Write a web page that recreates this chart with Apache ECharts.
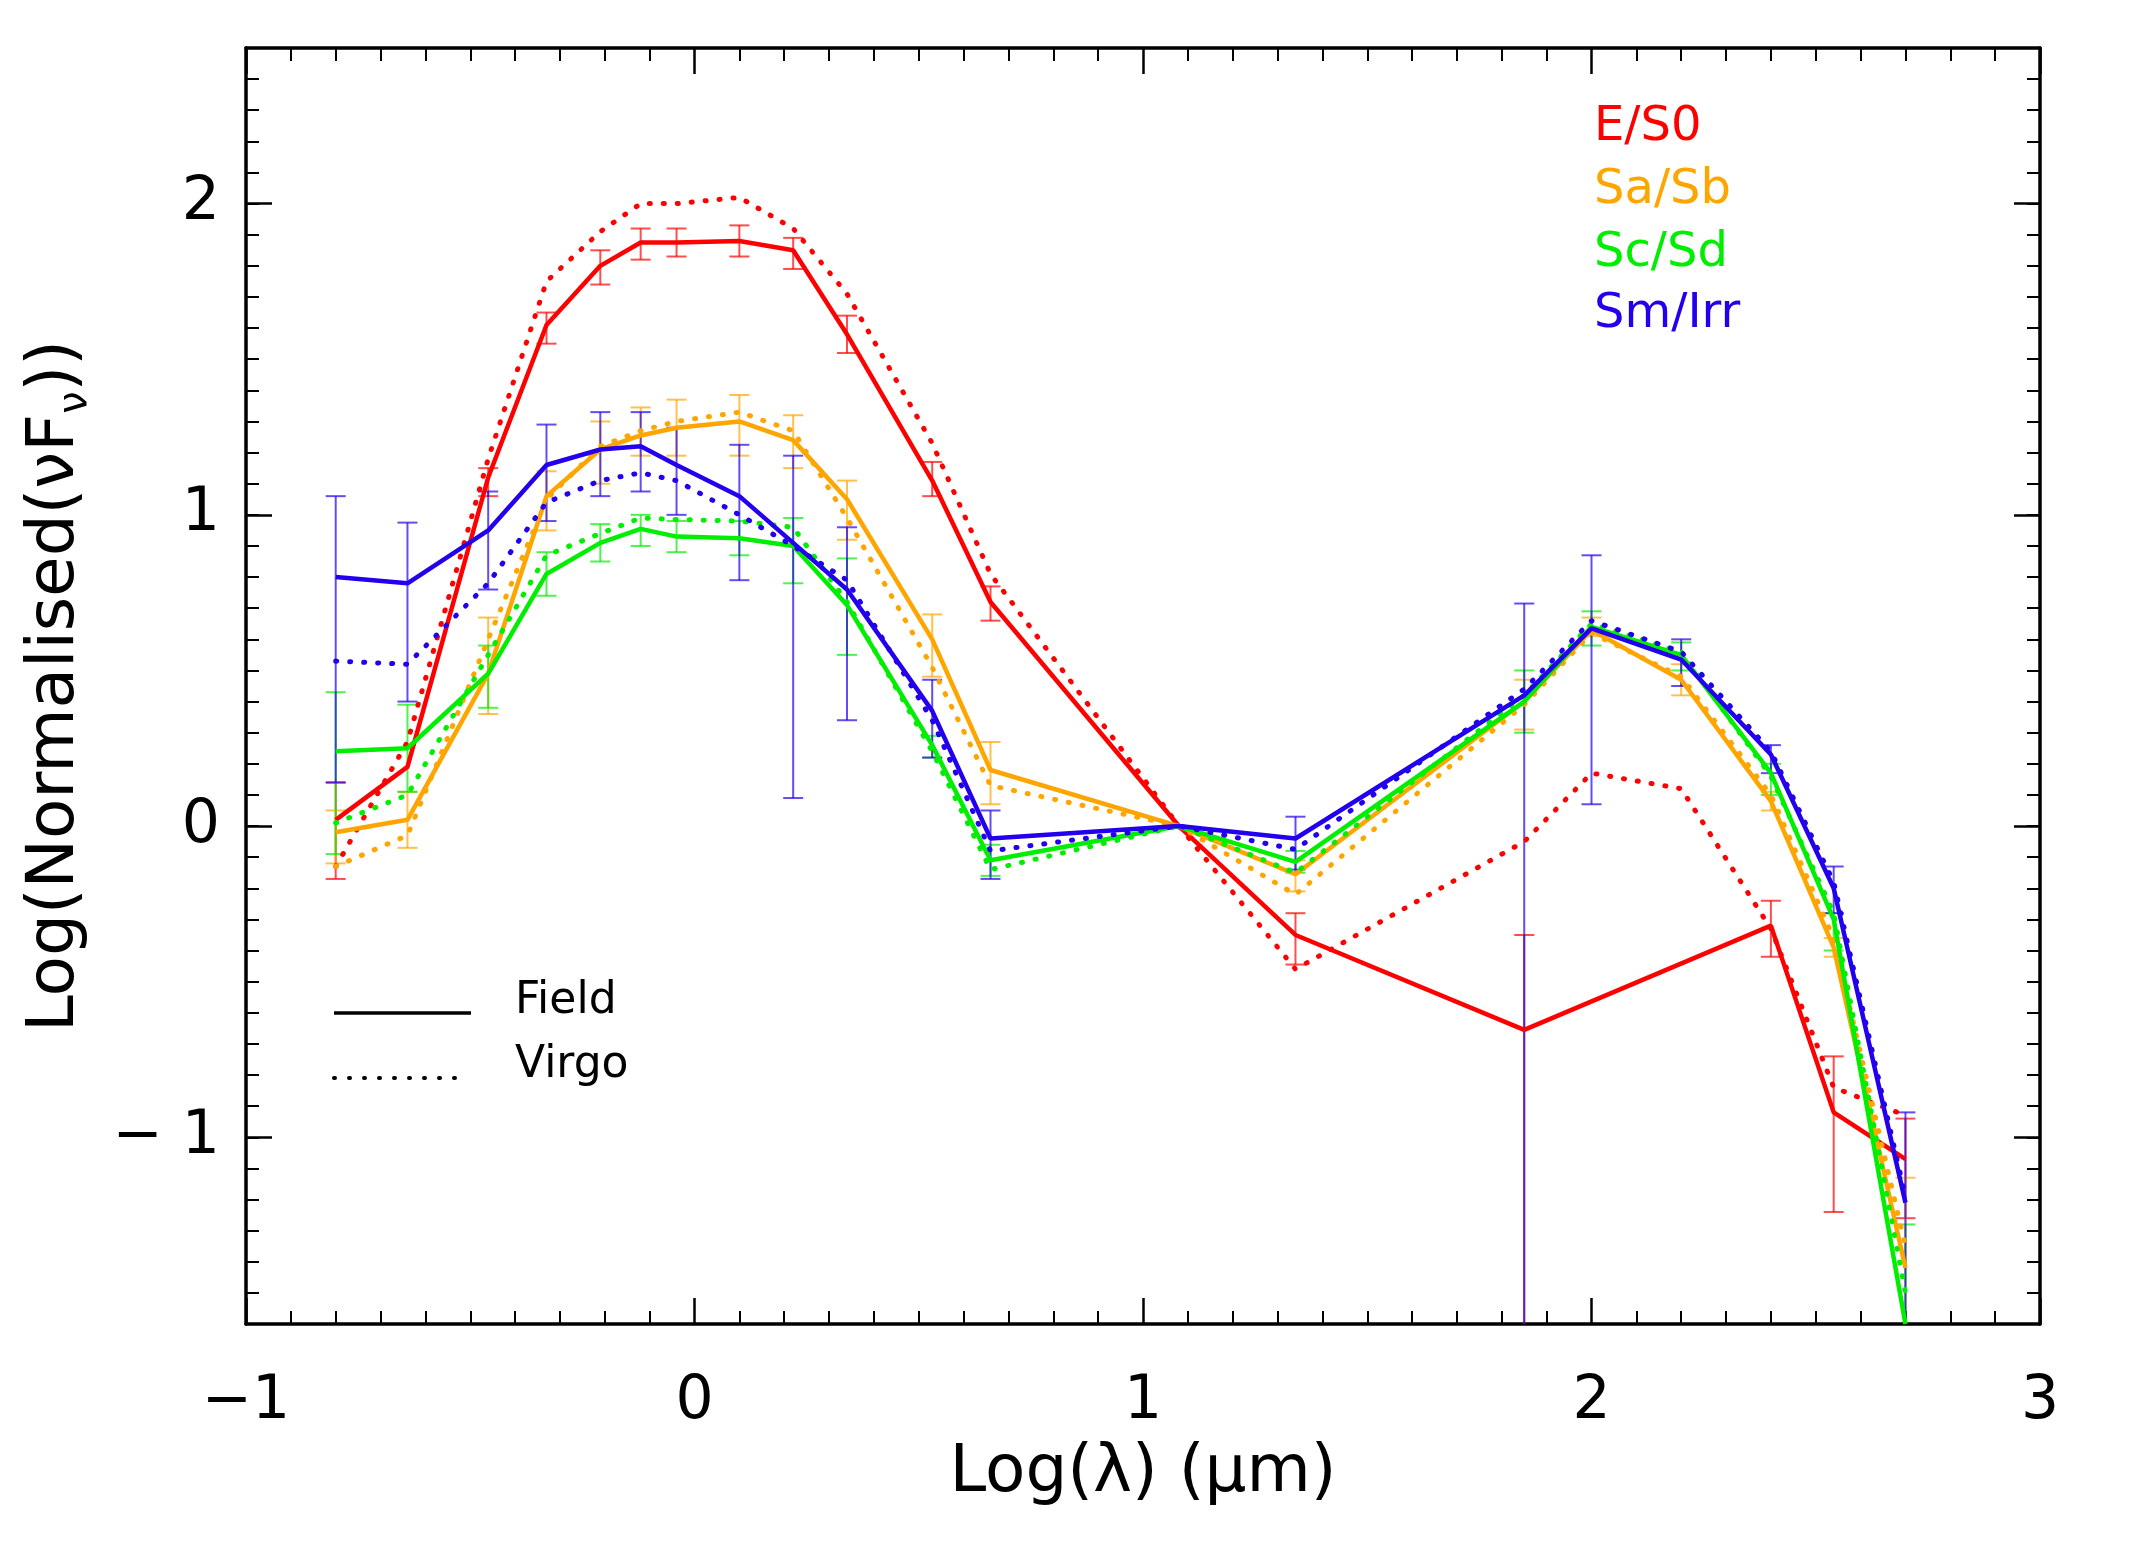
<!DOCTYPE html>
<html>
<head>
<meta charset="utf-8">
<script src="https://cdn.jsdelivr.net/npm/echarts@6/dist/echarts.min.js"></script>
<style>
  html, body { margin: 0; padding: 0; background: #ffffff; }
  #chart { width: 2140px; height: 1546px; }
</style>
</head>
<body>
<div id="chart"></div>
<script>
// log10 of band wavelength (um): FUV, NUV, ugriz, JHK, W1-W4, 70, 100, 160, 250, 350, 500
const logLambda = [-0.80, -0.64, -0.46, -0.33, -0.21, -0.12, -0.04, 0.10, 0.22, 0.34, 0.53, 0.66, 1.08, 1.34, 1.85, 2.00, 2.20, 2.40, 2.54, 2.70]

const typeNames = ['E/S0', 'Sa/Sb', 'Sc/Sd', 'Sm/Irr']
const typeColors = ['#ff0000', '#ffa500', '#00ee00', '#2200ee']

const esField = [0.02, 0.19, 1.12, 1.61, 1.80, 1.875, 1.875, 1.88, 1.85, 1.58, 1.11, 0.72, 0, -0.35, -0.655, null, null, -0.32, -0.92, -1.07]
const esVirgo = [-0.13, 0.27, 1.18, 1.75, 1.91, 2.00, 2.00, 2.02, 1.92, 1.71, 1.23, 0.81, 0, -0.46, -0.05, 0.17, 0.12, -0.33, -0.84, -0.93]
const saField = [-0.02, 0.02, 0.49, 1.06, 1.21, 1.255, 1.28, 1.30, 1.24, 1.05, 0.60, 0.18, 0, -0.155, 0.40, 0.63, 0.47, 0.08, -0.39, -1.42]
const saVirgo = [-0.13, -0.03, 0.60, 1.05, 1.22, 1.27, 1.30, 1.33, 1.27, 0.99, 0.51, 0.13, 0, -0.22, 0.39, 0.62, 0.48, 0.10, -0.36, -1.35]
const scField = [0.24, 0.25, 0.49, 0.81, 0.91, 0.955, 0.93, 0.925, 0.90, 0.71, 0.26, -0.11, 0, -0.115, 0.40, 0.64, 0.55, 0.17, -0.30, -1.60]
const scVirgo = [0.01, 0.10, 0.55, 0.87, 0.94, 0.99, 0.985, 0.98, 0.96, 0.72, 0.24, -0.14, 0, -0.15, 0.42, 0.65, 0.56, 0.16, -0.28, -1.50]
const smField = [0.80, 0.78, 0.95, 1.16, 1.21, 1.22, 1.16, 1.06, 0.91, 0.76, 0.37, -0.04, 0, -0.04, 0.42, 0.635, 0.535, 0.23, -0.20, -1.21]
const smVirgo = [0.53, 0.52, 0.78, 1.04, 1.11, 1.135, 1.11, 1.00, 0.90, 0.79, 0.34, -0.08, 0, -0.075, 0.44, 0.66, 0.56, 0.24, -0.18, -1.19]

// error bars on the field means: [low, high] per band (null = none)
const esErr = [[-0.17, 0.14], null, [1.06, 1.15], [1.55, 1.65], [1.74, 1.85], [1.82, 1.92], [1.83, 1.92], [1.83, 1.93], [1.79, 1.89], [1.52, 1.64], [1.06, 1.17], [0.66, 0.77], null, [-0.445, -0.28], [-1.6, -0.35], null, null, [-0.42, -0.24], [-1.24, -0.74], [-1.26, -0.94]]
const saErr = [[-0.12, 0.05], [-0.07, 0.11], [0.36, 0.67], [0.95, 1.14], [1.10, 1.30], [1.19, 1.345], [1.19, 1.37], [1.19, 1.385], [1.15, 1.32], [0.92, 1.11], [0.48, 0.68], [0.07, 0.27], null, [-0.21, -0.11], [0.31, 0.47], [0.61, 0.67], [0.42, 0.52], [0.05, 0.11], [-0.42, -0.36], [-1.6, -1.13]]
const scErr = [[-0.09, 0.43], [0.11, 0.39], [0.38, 0.58], [0.74, 0.88], [0.85, 0.97], [0.90, 1.00], [0.88, 0.98], [0.87, 0.98], [0.78, 0.99], [0.55, 0.86], [0.22, 0.29], [-0.16, -0.06], null, [-0.15, -0.08], [0.30, 0.50], [0.58, 0.69], [0.50, 0.59], [0.10, 0.20], [-0.40, -0.28], [-1.6, -1.28]]
const smErr = [[0.14, 1.06], [0.40, 0.975], [0.76, 1.075], [0.98, 1.29], [1.06, 1.33], [1.075, 1.33], [1.00, 1.28], [0.79, 1.225], [0.09, 1.19], [0.34, 0.96], [0.22, 0.47], [-0.17, 0.05], null, [-0.14, 0.03], [-1.6, 0.715], [0.07, 0.87], [0.45, 0.60], [0.17, 0.26], [-0.28, -0.13], [-1.6, -0.92]]

const xTicks = [-1, 0, 1, 2, 3]
const yTicks = [-1, 0, 1, 2]
const yMin = -1.6
const yMax = 2.5

const font = "'DejaVu Sans', sans-serif"
const fieldSets = [esField, saField, scField, smField]
const virgoSets = [esVirgo, saVirgo, scVirgo, smVirgo]
const errSets = [esErr, saErr, scErr, smErr]

function toPairs(values) {
  return logLambda.map((x, i) => [x, values[i]])
}

function lineSeries(name, values, color, dotted) {
  return {
    name,
    type: 'line',
    data: toPairs(values),
    showSymbol: false,
    symbol: 'none',
    connectNulls: true,
    animation: false,
    z: 4,
    lineStyle: dotted
      ? { color, width: 5, type: [1, 13], cap: 'round' }
      : { color, width: 4.5 }
  }
}

function errorSeries(name, bars, color) {
  const data = []
  bars.forEach((b, i) => { if (b) data.push([logLambda[i], b[0], b[1]]) })
  return {
    name,
    type: 'custom',
    data,
    animation: false,
    z: 3,
    encode: { x: 0, y: [1, 2] },
    renderItem: (params, api) => {
      const x = api.value(0)
      const low = api.value(1)
      const lo = api.coord([x, low])
      const hi = api.coord([x, api.value(2)])
      const half = 10
      const style = { stroke: color, lineWidth: 2, opacity: 0.7 }
      const children = [
        { type: 'line', shape: { x1: lo[0], y1: lo[1], x2: hi[0], y2: hi[1] }, style },
        { type: 'line', shape: { x1: hi[0] - half, y1: hi[1], x2: hi[0] + half, y2: hi[1] }, style }
      ]
      if (low > yMin) {
        children.push({ type: 'line', shape: { x1: lo[0] - half, y1: lo[1], x2: lo[0] + half, y2: lo[1] }, style })
      }
      return { type: 'group', children }
    }
  }
}

const series = []
typeNames.forEach((t, k) => {
  series.push(errorSeries(t + ' err', errSets[k], typeColors[k]))
})
typeNames.forEach((t, k) => {
  series.push(lineSeries(t + ' Field', fieldSets[k], typeColors[k], false))
  series.push(lineSeries(t + ' Virgo', virgoSets[k], typeColors[k], true))
})

function fmtMinus(v) {
  return v < 0 ? '\u2212' + Math.abs(v) : String(v)
}

const axisLine = { show: true, onZero: false, lineStyle: { color: '#000', width: 3.5 } }

function xAxisDef(position, showLabel) {
  return {
    type: 'value',
    position,
    min: -1,
    max: 3,
    interval: 1,
    axisLine,
    axisTick: { show: true, inside: true, length: 26, lineStyle: { color: '#000', width: 2.5 } },
    minorTick: { show: true, splitNumber: 10, length: 13, lineStyle: { color: '#000', width: 2 } },
    splitLine: { show: false },
    axisLabel: {
      show: showLabel,
      customValues: xTicks,
      margin: 48,
      color: '#000',
      fontSize: 60,
      fontFamily: font,
      formatter: fmtMinus
    },
    name: showLabel ? 'Log(\u03bb) (\u03bcm)' : '',
    nameLocation: 'middle',
    nameGap: 150,
    nameTextStyle: { color: '#000', fontSize: 66, fontFamily: font, verticalAlign: 'middle' }
  }
}

function yMajorDef(position, showLabel) {
  return {
    type: 'value',
    position,
    min: yMin,
    max: yMax,
    axisLine,
    axisTick: { show: true, inside: true, length: 26, customValues: yTicks, lineStyle: { color: '#000', width: 2.5 } },
    splitLine: { show: false },
    axisLabel: {
      show: showLabel,
      customValues: yTicks,
      margin: 26,
      color: '#000',
      fontSize: 60,
      fontFamily: font,
      formatter: (v) => (v < 0 ? '\u2212 ' + Math.abs(v) : String(v))
    },
    name: showLabel ? '{a|Log(Normalised(\u03bdF}{s|\u03bd}{a|))}' : '',
    nameLocation: 'middle',
    nameRotate: 90,
    nameGap: 190,
    nameTextStyle: {
      color: '#000',
      verticalAlign: 'middle',
      rich: {
        a: { fontSize: 66, fontFamily: font, color: '#000', lineHeight: 80 },
        s: { fontSize: 40, fontFamily: font, color: '#000', verticalAlign: 'bottom', lineHeight: 80 }
      }
    }
  }
}

function yMinorDef(position) {
  return {
    type: 'value',
    position,
    min: yMin,
    max: yMax,
    interval: 0.1,
    axisLine: { show: false, onZero: false },
    axisTick: { show: true, inside: true, length: 13, lineStyle: { color: '#000', width: 2 } },
    axisLabel: { show: false },
    splitLine: { show: false }
  }
}

const legendFont = "44px 'DejaVu Sans', sans-serif"
const graphic = [
  { type: 'line', shape: { x1: 334, y1: 1013, x2: 471, y2: 1013 }, style: { stroke: '#000', lineWidth: 3.5 } },
  { type: 'line', shape: { x1: 334, y1: 1078, x2: 462, y2: 1078 }, style: { stroke: '#000', lineWidth: 4, lineDash: [1, 14], lineCap: 'round' } },
  { type: 'text', x: 515, y: 1002, style: { text: 'Field', fill: '#000', font: legendFont, verticalAlign: 'middle' } },
  { type: 'text', x: 515, y: 1066, style: { text: 'Virgo', fill: '#000', font: legendFont, verticalAlign: 'middle' } }
]
const typeY = [128, 191, 254, 315]
typeNames.forEach((t, k) => {
  graphic.push({
    type: 'text', x: 1594, y: typeY[k],
    style: { text: t, fill: typeColors[k], font: "48px 'DejaVu Sans', sans-serif", verticalAlign: 'middle' }
  })
})

const chart = echarts.init(document.getElementById('chart'), null, { renderer: 'canvas' })
chart.setOption({
  animation: false,
  backgroundColor: '#ffffff',
  grid: { left: 246, right: 100, top: 48, bottom: 222, containLabel: false },
  xAxis: [xAxisDef('bottom', true), xAxisDef('top', false)],
  yAxis: [yMajorDef('left', true), yMajorDef('right', false), yMinorDef('left'), yMinorDef('right')],
  series,
  graphic
})
</script>
</body>
</html>
